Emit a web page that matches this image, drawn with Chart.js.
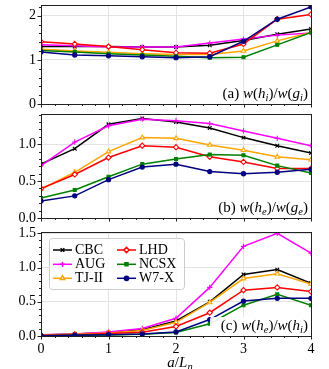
<!DOCTYPE html>
<html><head><meta charset="utf-8">
<script src="https://cdn.jsdelivr.net/npm/chart.js@4"></script>
<style>
html,body{margin:0;padding:0;background:#fff;}
#wrap{position:relative;width:329px;height:369px;overflow:hidden;background:#fff;}
canvas{position:absolute;left:0;}
</style></head><body>
<div id="wrap">
<canvas id="ca" width="329" height="110" style="top:0px"></canvas>
<canvas id="cb" width="329" height="116" style="top:108px"></canvas>
<canvas id="cc" width="329" height="143" style="top:226px"></canvas>
</div>
<script>
// ---- data ----
const xs = [0, 0.5, 1, 1.5, 2, 2.5, 3, 3.5, 4];
const seriesNames = ['CBC', 'AUG', 'TJ-II', 'LHD', 'NCSX', 'W7-X'];

// (a) w(h_i)/w(g_i)
const cbcA  = [1.30, 1.30, 1.30, 1.29, 1.29, 1.33, 1.44, 1.58, 1.70];
const augA  = [1.34, 1.32, 1.29, 1.29, 1.29, 1.38, 1.47, 1.56, 1.61];
const tjA   = [1.24, 1.20, 1.17, 1.14, 1.12, 1.12, 1.20, 1.43, 1.62];
const lhdA  = [1.41, 1.36, 1.30, 1.23, 1.16, 1.15, 1.36, 1.92, 2.03];
const ncsxA = [1.21, 1.18, 1.14, 1.11, 1.08, 1.05, 1.06, 1.34, 1.62];
const w7xA  = [1.18, 1.11, 1.09, 1.07, 1.05, 1.07, 1.42, 1.92, 2.20];

// (b) w(h_e)/w(g_e)
const cbcB  = [0.73, 0.94, 1.27, 1.35, 1.30, 1.22, 1.09, 0.98, 0.88];
const augB  = [0.71, 1.03, 1.25, 1.34, 1.32, 1.28, 1.18, 1.08, 0.98];
const tjB   = [0.39, 0.62, 0.90, 1.09, 1.08, 0.99, 0.92, 0.83, 0.79];
const lhdB  = [0.40, 0.59, 0.82, 0.98, 0.96, 0.83, 0.76, 0.67, 0.67];
const ncsxB = [0.27, 0.38, 0.56, 0.73, 0.80, 0.86, 0.85, 0.71, 0.61];
const w7xB  = [0.23, 0.30, 0.52, 0.69, 0.73, 0.63, 0.60, 0.62, 0.66];

// (c) w(h_e)/w(h_i)
const cbcC  = [0.015, 0.03, 0.05, 0.09, 0.22, 0.50, 0.90, 0.97, 0.77];
const augC  = [0.02, 0.03, 0.06, 0.11, 0.26, 0.71, 1.31, 1.50, 1.21];
const tjC   = [0.015, 0.025, 0.045, 0.08, 0.20, 0.49, 0.84, 0.91, 0.76];
const lhdC  = [0.01, 0.02, 0.035, 0.055, 0.14, 0.34, 0.67, 0.71, 0.65];
const ncsxC = [0.005, 0.01, 0.015, 0.025, 0.05, 0.18, 0.45, 0.61, 0.45];
const w7xC  = [0.005, 0.01, 0.02, 0.03, 0.06, 0.24, 0.51, 0.55, 0.55];

const yTicksA = ['0', '1', '2'];
const yTicksBC = ['0.0', '0.5', '1.0', '1.5'];
const xTickLabels = ['0', '1', '2', '3', '4'];

// ---- styles ----
const colors = ['#000000', '#ff00ff', '#ffa500', '#ff0000', '#008000', '#000080'];
const pstyles = ['crossRot', 'cross', 'triangle', 'rectRot', 'rect', 'circle'];
const hollow = [false, false, true, true, false, false];
const FONT = '"Liberation Serif", "Times New Roman", serif';

Chart.defaults.font.family = FONT;
Chart.defaults.font.size = 14;
Chart.defaults.color = '#000';

function isMajor(v, m) { const r = v / m; return Math.abs(r - Math.round(r)) < 1e-6; }

function fontOf(s) { return (s.i ? 'italic ' : '') + (s.sub ? 10.5 : 15) + 'px ' + FONT; }
function drawRich(ctx, segs, x, y, align) {
  let w = 0;
  segs.forEach(s => { ctx.font = fontOf(s); s.w = ctx.measureText(s.t).width; w += s.w; });
  let cx = align === 'right' ? x - w : (align === 'center' ? x - w / 2 : x);
  ctx.textAlign = 'left'; ctx.textBaseline = 'alphabetic'; ctx.fillStyle = '#000';
  segs.forEach(s => { ctx.font = fontOf(s); ctx.fillText(s.t, cx, y + (s.sub ? 3 : 0)); cx += s.w; });
  return w;
}

function makeDatasets(arrs) {
  return arrs.map((arr, k) => ({
    label: seriesNames[k],
    data: xs.map((x, j) => ({x: x, y: arr[j]})),
    borderColor: colors[k],
    backgroundColor: colors[k],
    pointBackgroundColor: hollow[k] ? '#ffffff' : colors[k],
    pointBorderColor: colors[k],
    pointStyle: pstyles[k],
    pointRadius: (pstyles[k] === 'rect' || pstyles[k] === 'circle') ? 2.1 : 2.6,
    pointBorderWidth: 1.1,
    borderWidth: 1.5,
    tension: 0,
    fill: false,
    order: 10 - k
  }));
}

function makePanel(id, arrs, o) {
  const framePlugin = {
    id: 'frame' + id,
    afterDatasetsDraw(chart) {
      const ctx = chart.ctx, a = chart.chartArea;
      ctx.save();
      if (o.labelBox) {
        ctx.fillStyle = 'rgba(255,255,255,0.9)';
        ctx.beginPath();
        ctx.roundRect(a.right - 101, a.bottom - 19, 99, 17.5, 2);
        ctx.fill();
      }
      drawRich(ctx, o.label, a.right - 3, a.bottom - 6.5, 'right');
      if (o.legend) {
        const lx = a.left + 8, ly = a.top + 6, lw = 135, lh = 51;
        ctx.fillStyle = 'rgba(255,255,255,0.85)';
        ctx.strokeStyle = '#cccccc'; ctx.lineWidth = 1;
        ctx.beginPath(); ctx.roundRect(lx + 0.5, ly + 0.5, lw, lh, 3); ctx.fill(); ctx.stroke();
        const colX = [lx + 4, lx + 68];
        const rowY = [ly + 12, ly + 26.3, ly + 40.3];
        chart.data.datasets.forEach((ds, k) => {
          const cx = colX[Math.floor(k / 3)], cy = rowY[k % 3];
          ctx.strokeStyle = ds.borderColor; ctx.lineWidth = 1.5;
          ctx.beginPath(); ctx.moveTo(cx, cy); ctx.lineTo(cx + 19, cy); ctx.stroke();
          ctx.fillStyle = ds.pointBackgroundColor; ctx.strokeStyle = ds.pointBorderColor;
          Chart.helpers.drawPoint(ctx, {pointStyle: ds.pointStyle, rotation: 0, radius: ds.pointRadius, borderWidth: 1.1}, cx + 9.5, cy);
          ctx.fillStyle = '#000'; ctx.font = '14px ' + FONT;
          ctx.textAlign = 'left'; ctx.textBaseline = 'middle';
          ctx.fillText(ds.label, cx + 22, cy + 0.5);
        });
      }
      ctx.restore();
    },
    afterDraw(chart) {
      const ctx = chart.ctx, a = chart.chartArea;
      const ys = chart.scales.y, xsc = chart.scales.x;
      ctx.save();
      ctx.strokeStyle = '#222'; ctx.lineWidth = 1;
      ctx.beginPath();
      ys.ticks.forEach(t => {
        const p = Math.round(ys.getPixelForValue(t.value)) + 0.5;
        const L = isMajor(t.value, o.yMajor) ? 3.5 : 2;
        ctx.moveTo(Math.round(a.left), p); ctx.lineTo(Math.round(a.left) - L, p);
      });
      xsc.ticks.forEach(t => {
        const p = Math.round(xsc.getPixelForValue(t.value)) + 0.5;
        const L = isMajor(t.value, 1) ? 3.5 : 2;
        ctx.moveTo(p, Math.round(a.bottom)); ctx.lineTo(p, Math.round(a.bottom) + L);
      });
      ctx.stroke();
      ctx.strokeRect(Math.round(a.left) + 0.5, Math.round(a.top) + 0.5,
                     Math.round(a.right - a.left), Math.round(a.bottom - a.top));
      if (o.xTitle) {
        drawRich(ctx, [{t: 'a', i: true}, {t: '/'}, {t: 'L', i: true}, {t: 'n', i: true, sub: true}],
                 (a.left + a.right) / 2 + 4, a.bottom + 30.5, 'center');
      }
      ctx.restore();
    }
  };

  return new Chart(document.getElementById(id), {
    type: 'line',
    data: {datasets: makeDatasets(arrs)},
    options: {
      responsive: false,
      animation: false,
      devicePixelRatio: 1,
      layout: {padding: {left: 0, right: 18, top: o.padTop, bottom: 0}},
      plugins: {legend: {display: false}, tooltip: {enabled: false}},
      scales: {
        x: {
          type: 'linear', min: 0, max: 4, bounds: 'data',
          border: {display: false},
          grid: {
            drawTicks: false,
            color: c => (isMajor(c.tick.value, 1) && c.tick.value > 0 && c.tick.value < 4) ? '#e3e3e3' : 'rgba(0,0,0,0)',
            lineWidth: 1
          },
          ticks: {
            display: !!o.xLabels, stepSize: 0.2, autoSkip: false, maxRotation: 0, padding: 5,
            includeBounds: false,
            font: {size: 14, family: FONT}, color: '#000',
            callback: v => isMajor(v, 1) ? xTickLabels[Math.round(v)] : ''
          },
          afterFit: s => { s.height = o.xHeight; s.paddingLeft = 0; s.paddingRight = 0; }
        },
        y: {
          type: 'linear', min: 0, max: o.yMax, bounds: 'data',
          border: {display: false},
          grid: {
            drawTicks: false,
            color: c => (isMajor(c.tick.value, o.yMajor) && c.tick.value > 0) ? '#e3e3e3' : 'rgba(0,0,0,0)',
            lineWidth: 1
          },
          ticks: {
            stepSize: o.yMinor, autoSkip: false, padding: 5, includeBounds: false,
            font: {size: 14, family: FONT}, color: '#000',
            callback: v => isMajor(v, o.yMajor) ? o.yLabels[Math.round(v / o.yMajor)] : ''
          },
          afterFit: s => { s.width = 41; s.paddingTop = 0; s.paddingBottom = 0; }
        }
      }
    },
    plugins: [framePlugin]
  });
}

makePanel('ca', [cbcA, augA, tjA, lhdA, ncsxA, w7xA], {
  yMax: 2.24, yMajor: 1, yMinor: 0.2, yLabels: yTicksA, padTop: 0, xHeight: 6,
  label: [{t: '(a) '}, {t: 'w', i: true}, {t: '('}, {t: 'h', i: true}, {t: 'i', i: true, sub: true}, {t: ')/'},
          {t: 'w', i: true}, {t: '('}, {t: 'g', i: true}, {t: 'i', i: true, sub: true}, {t: ')'}]
});
makePanel('cb', [cbcB, augB, tjB, lhdB, ncsxB, w7xB], {
  yMax: 1.41, yMajor: 0.5, yMinor: 0.1, yLabels: yTicksBC, padTop: 6, xHeight: 6,
  label: [{t: '(b) '}, {t: 'w', i: true}, {t: '('}, {t: 'h', i: true}, {t: 'e', i: true, sub: true}, {t: ')/'},
          {t: 'w', i: true}, {t: '('}, {t: 'g', i: true}, {t: 'e', i: true, sub: true}, {t: ')'}]
});
makePanel('cc', [cbcC, augC, tjC, lhdC, ncsxC, w7xC], {
  yMax: 1.52, yMajor: 0.5, yMinor: 0.1, yLabels: yTicksBC, padTop: 6, xHeight: 33, xLabels: true,
  xTitle: true, legend: true, labelBox: true,
  label: [{t: '(c) '}, {t: 'w', i: true}, {t: '('}, {t: 'h', i: true}, {t: 'e', i: true, sub: true}, {t: ')/'},
          {t: 'w', i: true}, {t: '('}, {t: 'h', i: true}, {t: 'i', i: true, sub: true}, {t: ')'}]
});
</script>
</body></html>
